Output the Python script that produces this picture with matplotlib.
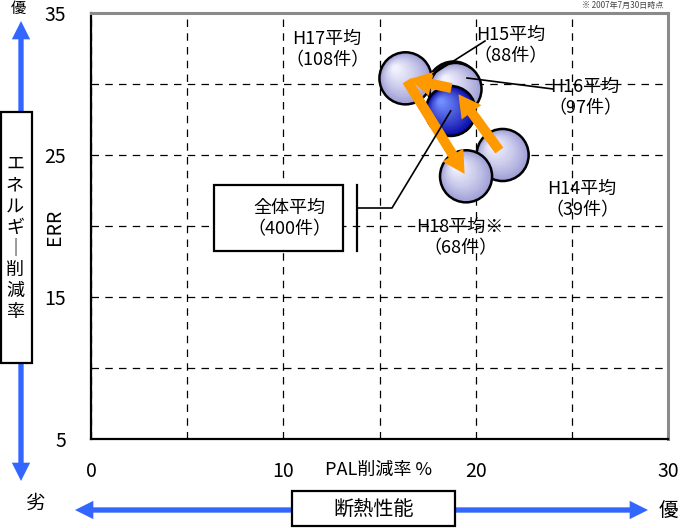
import numpy as np
import matplotlib
matplotlib.use('Agg')
import matplotlib.pyplot as plt
import matplotlib.transforms as mtransforms
from matplotlib.patches import Rectangle, FancyArrowPatch
from matplotlib.lines import Line2D

plt.rcParams['font.family'] = ['Noto Sans CJK JP', 'DejaVu Sans']

# Data
names = ['H15平均', 'H16平均', 'H17平均', 'H14平均', 'H18平均※', '全体平均']
counts = [88, 97, 108, 39, 68, 400]
pal = [18.85, 18.95, 16.35, 21.4, 19.5, 18.7]    # PAL削減率 %
err = [29.75, 29.65, 30.4, 25.0, 23.5, 28.1]     # ERR
x_ticks = [0, 10, 20, 30]
y_ticks = [5, 15, 25, 35]

W, H = 684, 528
fig = plt.figure(figsize=(W / 100, H / 100), dpi=100)
ax = fig.add_axes([91 / W, 1 - 439 / H, (668 - 91) / W, (439 - 13) / H])


def fp(x, y):
    # pixel position -> figure fraction
    return x / W, 1 - y / H


ax.set_xlim(0, 30)
ax.set_ylim(5, 35)
ax.set_xticks(np.arange(0, 31, 5))
ax.set_yticks(np.arange(5, 36, 5))
ax.set_xticklabels([str(v) if v in x_ticks else '' for v in range(0, 31, 5)])
ax.set_yticklabels([str(v) if v in y_ticks else '' for v in range(5, 36, 5)])
ax.tick_params(length=0, labelsize=14)
ax.tick_params(axis='x', pad=16)
ax.tick_params(axis='y', pad=18)
ax.grid(True, color='black', linestyle=(0, (6, 5)), linewidth=0.9)
for side in ['left', 'bottom']:
    ax.spines[side].set_color('black')
    ax.spines[side].set_linewidth(1.6)
for side in ['top', 'right']:
    ax.spines[side].set_color('#8a8a8a')
    ax.spines[side].set_linewidth(2.2)


def bubble(x, y, edge_col, hi_col, size=37.5):
    edge_col = np.array(edge_col)
    hi_col = np.array(hi_col)
    n = 28
    for k in range(n):
        f = k / (n - 1)
        d = size * (1 - 0.9 * f)
        off = (size - d) / 2 * 0.45
        tr = mtransforms.offset_copy(ax.transData, fig=fig, x=-off, y=off, units='points')
        c = edge_col + (hi_col - edge_col) * f ** 0.8
        ax.scatter([x], [y], s=d ** 2, color=c, linewidths=0, transform=tr, zorder=3)
    ax.scatter([x], [y], s=size ** 2, facecolors='none', edgecolors='black',
               linewidths=1.8, zorder=3)


for i in range(len(names)):
    if names[i] == '全体平均':
        bubble(pal[i], err[i], (0.0, 0.0, 0.62), (0.45, 0.55, 1.0), size=36)
    else:
        bubble(pal[i], err[i], (0.60, 0.60, 0.83), (0.95, 0.95, 1.0))

# orange trend arrows H14 -> H15, H16 -> H17, H17 -> H18
idx = {n: i for i, n in enumerate(names)}
orange = '#FF9900'
for a, b, sa, sb in [('H14平均', 'H15平均', 4, 6), ('H16平均', 'H17平均', 3, -3),
                     ('H17平均', 'H18平均※', 2, -2)]:
    ax.annotate('', xy=(pal[idx[b]], err[idx[b]]), xytext=(pal[idx[a]], err[idx[a]]),
                arrowprops=dict(arrowstyle='simple,head_length=1.0,head_width=1.1,tail_width=0.45',
                                mutation_scale=16, color=orange, lw=0,
                                shrinkA=sa, shrinkB=sb),
                zorder=5)

# labels
lab_pos = {'H15平均': (511, 46), 'H16平均': (585, 98), 'H17平均': (327, 50),
           'H14平均': (582, 200), 'H18平均※': (460, 238), '全体平均': (289, 219)}
for i, n in enumerate(names):
    x, y = fp(*lab_pos[n])
    fig.text(x, y, f'{n}\n（{counts[i]}件）', ha='center', va='center',
             fontsize=13, linespacing=1.25, multialignment='center', zorder=6)


def line_px(pts, lw=1.2):
    xs = [p[0] / W for p in pts]
    ys = [1 - p[1] / H for p in pts]
    fig.add_artist(Line2D(xs, ys, color='black', linewidth=lw, zorder=6))


# leader lines
line_px([(485, 41), (433, 74)])
line_px([(467, 78), (553, 89)])
line_px([(357, 185), (357, 251)], lw=1.6)
line_px([(357, 208), (392, 208), (91 + pal[idx['全体平均']] * 577 / 30,
                                  439 - (err[idx['全体平均']] - 5) * 426 / 30)])

# box around 全体平均
x0, y0 = fp(214, 251)
x1, y1 = fp(343, 185)
fig.add_artist(Rectangle((x0, y0), x1 - x0, y1 - y0, transform=fig.transFigure,
                         facecolor='white', edgecolor='black', linewidth=1.6, zorder=4))

# axis captions
x, y = fp(379, 470)
fig.text(x, y, 'PAL削減率 %', ha='center', va='center', fontsize=13)
x, y = fp(55, 227)
fig.text(x, y, 'ERR', ha='center', va='center', fontsize=14, rotation=90)
x, y = fp(663, 1)
fig.text(x, y, '※ 2007年7月30日時点', ha='right', va='top', fontsize=5.8, color='#444444')

# blue arrows for 優 / 劣
blue = '#3366FF'
style = 'simple,head_length=1.1,head_width=1.1,tail_width=0.32'
for a, b in [((21, 240), (21, 21)), ((21, 240), (21, 481)),
             ((370, 510), (75, 510)), ((370, 510), (648, 510))]:
    fig.add_artist(FancyArrowPatch(fp(*a), fp(*b), transform=fig.transFigure,
                                   arrowstyle=style, mutation_scale=12, color=blue,
                                   lw=0, shrinkA=0, shrinkB=0, zorder=2))

# vertical box エネルギー削減率
x0, y0 = fp(1, 363)
x1, y1 = fp(32, 112)
fig.add_artist(Rectangle((x0, y0), x1 - x0, y1 - y0, transform=fig.transFigure,
                         facecolor='white', edgecolor='black', linewidth=1.6, zorder=4))
x, y = fp(15, 238)
fig.text(x, y, '\n'.join(list('エネルギ') + ['｜'] + list('削減率')), ha='center', va='center',
         fontsize=13, linespacing=1.22, zorder=5)

# horizontal box 断熱性能
x0, y0 = fp(292, 526)
x1, y1 = fp(455, 491)
fig.add_artist(Rectangle((x0, y0), x1 - x0, y1 - y0, transform=fig.transFigure,
                         facecolor='white', edgecolor='black', linewidth=1.6, zorder=4))
x, y = fp(374, 510)
fig.text(x, y, '断熱性能', ha='center', va='center', fontsize=14.5, zorder=5)

x, y = fp(35, 503)
fig.text(x, y, '劣', ha='center', va='center', fontsize=14)
x, y = fp(668, 510)
fig.text(x, y, '優', ha='center', va='center', fontsize=14)
x, y = fp(18, 0)
fig.text(x, y, '優', ha='center', va='top', fontsize=11)

fig.savefig('out.png', dpi=100)
